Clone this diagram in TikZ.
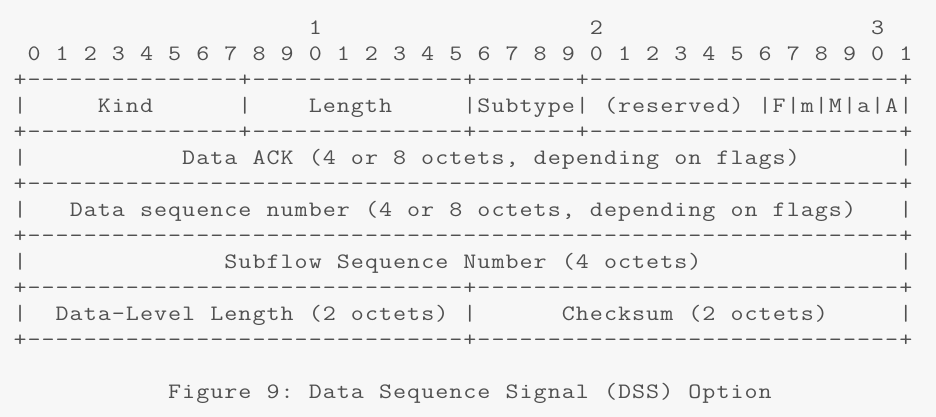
\documentclass[tikz,border=0pt]{standalone}
\usepackage{fontspec}
\setmonofont[FakeStretch=1.15]{lmmono12-regular.otf}
\definecolor{bgc}{HTML}{F7F7F7}
\definecolor{txc}{HTML}{505050}
\ExplSyntaxOn
\cs_new_protected:Npn \rk_cell:n #1 { \hbox_to_wd:nn {14.06pt} { \hss #1 \hss } }
\NewDocumentCommand\mt{m}{ \str_map_inline:nn {#1} { \rk_cell:n {##1} } }
\NewDocumentCommand\dsh{m}{ \prg_replicate:nn {#1} { \rk_cell:n {-} } }
\ExplSyntaxOff
\begin{document}
\begin{tikzpicture}[x=1pt,y=1pt,
  asc/.style={anchor=base west, inner sep=0pt, outer sep=0pt, text=txc,
    font=\ttfamily\fontsize{22}{26}\selectfont}]
\fill[bgc] (0,0) rectangle (936,417);
\useasboundingbox (0,0) rectangle (936,417);
% row 0: bit decades
\node[asc] (h10) at ({13+14.06*21},382) {\mt{1}};
\node[asc] (h20) at ({13+14.06*41},382) {\mt{2}};
\node[asc] (h30) at ({13+14.06*61},382) {\mt{3}};
% row 1: bit numbers
\node[asc] (bits) at ({13+14.06*1},356) {\mt{0 1 2 3 4 5 6 7 8 9 0 1 2 3 4 5 6 7 8 9 0 1 2 3 4 5 6 7 8 9 0 1}};
% row 2
\node[asc] (b2) at (13,330) {\mt{+}\dsh{15}\mt{+}\dsh{15}\mt{+}\dsh{7}\mt{+}\dsh{22}\mt{+}};
% row 3
\node[asc] (k0) at ({13+14.06*0},304) {\mt{|}};
\node[asc] (kind) at ({13+14.06*6},304) {\mt{Kind}};
\node[asc] (k1) at ({13+14.06*16},304) {\mt{|}};
\node[asc] (len) at ({13+14.06*21},304) {\mt{Length}};
\node[asc] (sub) at ({13+14.06*32},304) {\mt{|Subtype|}};
\node[asc] (res) at ({13+14.06*42},304) {\mt{(reserved)}};
\node[asc] (flags) at ({13+14.06*53},304) {\mt{|F|m|M|a|A|}};
% row 4
\node[asc] (b4) at (13,278) {\mt{+}\dsh{15}\mt{+}\dsh{15}\mt{+}\dsh{7}\mt{+}\dsh{22}\mt{+}};
% row 5
\node[asc] (a0) at ({13+14.06*0},252) {\mt{|}};
\node[asc] (ack) at ({13+14.06*12},252) {\mt{Data ACK (4 or 8 octets, depending on flags)}};
\node[asc] (a1) at ({13+14.06*63},252) {\mt{|}};
% row 6
\node[asc] (b6) at (13,226) {\mt{+}\dsh{62}\mt{+}};
% row 7
\node[asc] (s0) at ({13+14.06*0},200) {\mt{|}};
\node[asc] (dsn) at ({13+14.06*4},200) {\mt{Data sequence number (4 or 8 octets, depending on flags)}};
\node[asc] (s1) at ({13+14.06*63},200) {\mt{|}};
% row 8
\node[asc] (b8) at (13,174) {\mt{+}\dsh{62}\mt{+}};
% row 9
\node[asc] (f0) at ({13+14.06*0},148) {\mt{|}};
\node[asc] (ssn) at ({13+14.06*15},148) {\mt{Subflow Sequence Number (4 octets)}};
\node[asc] (f1) at ({13+14.06*63},148) {\mt{|}};
% row 10
\node[asc] (b10) at (13,122) {\mt{+}\dsh{31}\mt{+}\dsh{30}\mt{+}};
% row 11
\node[asc] (l0) at ({13+14.06*0},96) {\mt{|}};
\node[asc] (dll) at ({13+14.06*3},96) {\mt{Data-Level Length (2 octets)}};
\node[asc] (l1) at ({13+14.06*32},96) {\mt{|}};
\node[asc] (cks) at ({13+14.06*39},96) {\mt{Checksum (2 octets)}};
\node[asc] (l2) at ({13+14.06*63},96) {\mt{|}};
% row 12
\node[asc] (b12) at (13,70) {\mt{+}\dsh{31}\mt{+}\dsh{30}\mt{+}};
% caption
\node[asc] (cap) at ({13+14.06*11},18) {\mt{Figure 9: Data Sequence Signal (DSS) Option}};
\end{tikzpicture}
\end{document}
